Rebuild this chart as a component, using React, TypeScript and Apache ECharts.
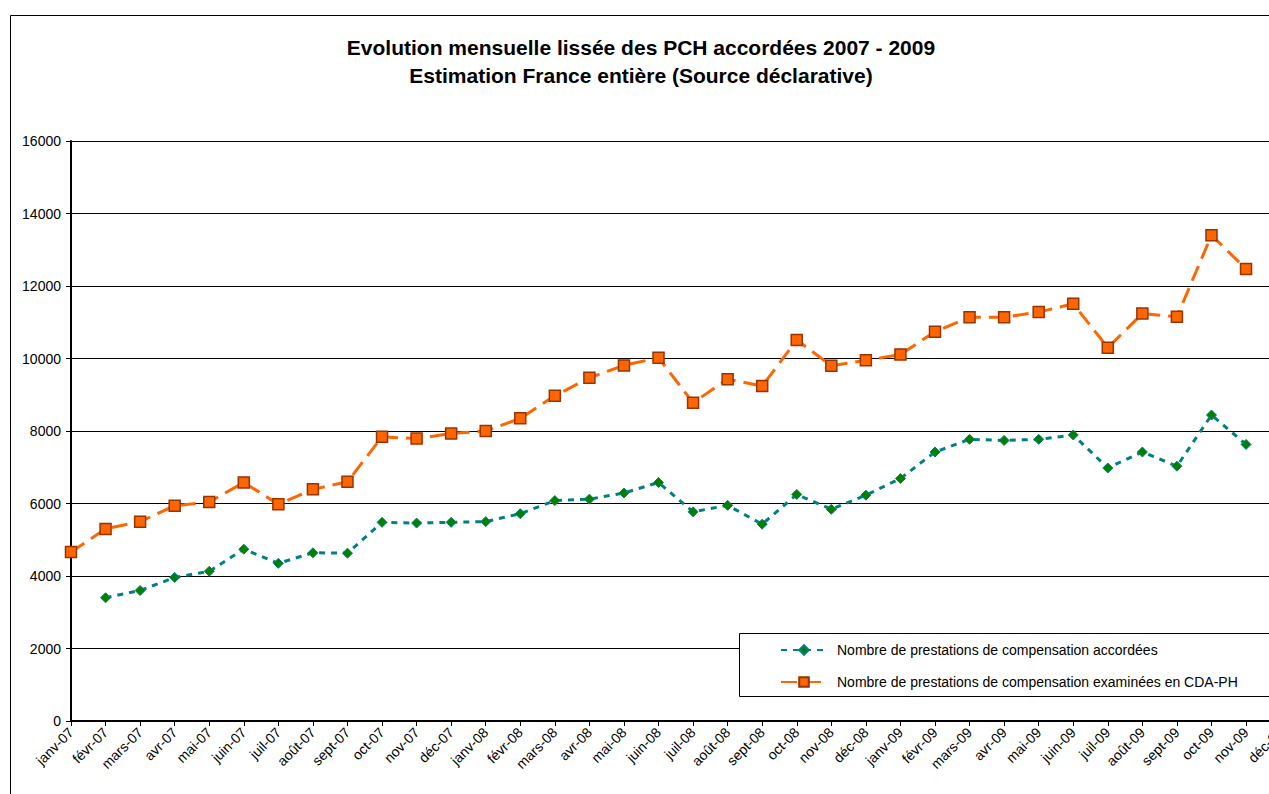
import React, { useEffect, useRef } from 'react';
import * as echarts from 'echarts';

const categories = [
  'janv-07', 'févr-07', 'mars-07', 'avr-07', 'mai-07', 'juin-07', 'juil-07', 'août-07', 'sept-07', 'oct-07', 'nov-07', 'déc-07',
  'janv-08', 'févr-08', 'mars-08', 'avr-08', 'mai-08', 'juin-08', 'juil-08', 'août-08', 'sept-08', 'oct-08', 'nov-08', 'déc-08',
  'janv-09', 'févr-09', 'mars-09', 'avr-09', 'mai-09', 'juin-09', 'juil-09', 'août-09', 'sept-09', 'oct-09', 'nov-09', 'déc-09',
];

const accordees = [
  null, 3400, 3600, 3960, 4130, 4740, 4350, 4640, 4630, 5480, 5460, 5480,
  5500, 5720, 6080, 6120, 6290, 6580, 5770, 5950, 5430, 6250, 5840, 6230,
  6690, 7420, 7770, 7740, 7770, 7890, 6980, 7420, 7030, 8440, 7630, null,
];

const examinees = [
  4660, 5300, 5500, 5940, 6040, 6580, 5980, 6390, 6600, 7840, 7790, 7930,
  8000, 8350, 8970, 9470, 9810, 10020, 8780, 9430, 9240, 10510, 9800, 9950,
  10110, 10740, 11140, 11140, 11280, 11510, 10300, 11240, 11150, 13400, 12470, null,
];

const seriesNames = [
  'Nombre de prestations de compensation accordées',
  'Nombre de prestations de compensation examinées en CDA-PH',
];

const titleLines = [
  'Evolution mensuelle lissée des PCH accordées 2007 - 2009',
  'Estimation France entière (Source déclarative)',
];

const FONT = 'Arial, "Liberation Sans", sans-serif';

export default function App() {
  const ref = useRef<HTMLDivElement>(null);
  useEffect(() => {
    const chart = echarts.init(ref.current!, null, { renderer: 'svg' });
    chart.setOption({
      animation: false,
      backgroundColor: '#ffffff',
      textStyle: { fontFamily: FONT },
      graphic: [
        {
          type: 'rect',
          z: 0,
          silent: true,
          shape: { x: 10.5, y: 15.5, width: 1500, height: 1000 },
          style: { fill: 'none', stroke: '#000', lineWidth: 1 },
        },
        {
          type: 'text',
          x: 641,
          y: 47,
          style: {
            text: titleLines[0],
            fontFamily: FONT,
            fontWeight: 'bold',
            fontSize: 21,
            fill: '#000',
            align: 'center',
            verticalAlign: 'middle',
          },
        },
        {
          type: 'text',
          x: 641,
          y: 75,
          style: {
            text: titleLines[1],
            fontFamily: FONT,
            fontWeight: 'bold',
            fontSize: 21,
            fill: '#000',
            align: 'center',
            verticalAlign: 'middle',
          },
        },
        {
          type: 'rect',
          z: 5,
          silent: true,
          shape: { x: 739.5, y: 633.5, width: 700, height: 63 },
          style: { fill: '#fff', stroke: '#000', lineWidth: 1 },
        },
      ],
      legend: {
        z: 6,
        orient: 'vertical',
        left: 780,
        top: 643,
        itemWidth: 46,
        itemHeight: 12,
        itemGap: 18,
        padding: 0,
        textStyle: { fontFamily: FONT, fontSize: 14, color: '#000', padding: [0, 0, 0, 5] },
        data: seriesNames,
      },
      grid: { left: 71, top: 141, right: 19.4, bottom: 73, show: false },
      xAxis: {
        type: 'category',
        data: categories,
        boundaryGap: false,
        axisLine: { lineStyle: { color: '#000', width: 2 } },
        axisTick: { show: true, length: 5, lineStyle: { color: '#000', width: 1 } },
        axisLabel: {
          interval: 0,
          rotate: 45,
          margin: 9,
          fontFamily: FONT,
          fontSize: 14,
          color: '#000',
        },
        splitLine: { show: false },
      },
      yAxis: {
        type: 'value',
        min: 0,
        max: 16000,
        interval: 2000,
        axisLine: { show: true, lineStyle: { color: '#000', width: 2 } },
        axisTick: { show: true, length: 5, lineStyle: { color: '#000' } },
        axisLabel: {
          margin: 10,
          fontFamily: FONT,
          fontSize: 14,
          color: '#000',
          formatter: (v: number) => String(v),
        },
        splitLine: { show: true, lineStyle: { color: '#000', width: 1 } },
      },
      series: [
        {
          name: seriesNames[0],
          type: 'line',
          data: accordees,
          connectNulls: false,
          symbol: 'diamond',
          symbolSize: 10,
          lineStyle: { color: '#008080', width: 3, type: [6, 6] },
          itemStyle: { color: '#008000', borderColor: '#008080', borderWidth: 1 },
          z: 3,
        },
        {
          name: seriesNames[1],
          type: 'line',
          data: examinees,
          symbol: 'rect',
          symbolSize: 11,
          lineStyle: { color: '#FF6600', width: 3, type: [16, 8] },
          itemStyle: { color: '#FF6600', borderColor: '#993300', borderWidth: 1.5 },
          z: 4,
        },
      ],
    });
    return () => chart.dispose();
  }, []);
  return (
    <div
      style={{
        position: 'fixed',
        left: 0,
        top: 0,
        width: 1269,
        height: 794,
        overflow: 'hidden',
        background: '#fff',
      }}
    >
      <div ref={ref} style={{ width: 1300, height: 794 }} />
    </div>
  );
}
